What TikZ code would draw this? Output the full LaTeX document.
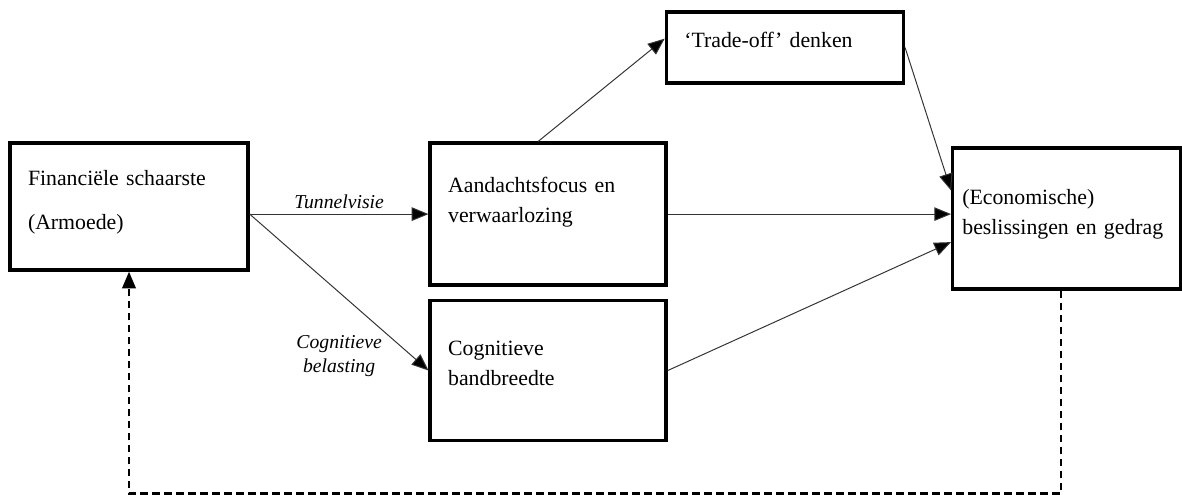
\documentclass[tikz,border=0pt]{standalone}
\usepackage{fontspec}
\setmainfont{Liberation Serif}
\usetikzlibrary{arrows.meta,positioning}

\begin{document}
\begin{tikzpicture}[
    block/.style={draw, line width=2.4pt, align=left, inner xsep=0.45cm, inner ysep=0pt, font=\fontsize{15.5}{21.3}\selectfont},
    arrow/.style={-{Triangle[length=0.42cm,width=0.34cm,fill=black]}, line width=0.7pt, black!80},
    feedback/.style={-{Triangle[length=0.42cm,width=0.34cm]}, line width=1.6pt, dash pattern=on 0.18cm off 0.12cm},
    lbl/.style={font=\fontsize{14}{17}\selectfont\itshape, align=center, black},
    node distance=0.4cm
]

\useasboundingbox (0,0) rectangle (29.55,-12.35);

\node[block, text width=5.05cm, minimum height=3.175cm] (scarcity) at (3.225,-5.1625) {Financiële schaarste\\[0.35cm](Armoede)\rule[-0.33cm]{0pt}{0pt}};

\node[block, text width=5.0cm, minimum height=3.55cm, right=4.47cm of scarcity, yshift=-0.19cm] (focus) {Aandachtsfocus en\\verwaarlozing\rule[-0.7cm]{0pt}{0pt}};

\node[block, text width=5.0cm, minimum height=3.5cm, below=0.3cm of focus] (bandwidth) {Cognitieve\\bandbreedte\rule[-0.35cm]{0pt}{0pt}};

\node[block, text width=5.025cm, minimum height=1.775cm, above right=1.42cm and -0.08cm of focus] (tradeoff) {‘Trade-off’ denken\rule[-0.375cm]{0pt}{0pt}};

\node[block, inner xsep=0.24cm, text width=5.22cm, minimum height=3.525cm, right=7.08cm of focus, yshift=-0.11cm] (behaviour) {(Economische)\\beslissingen en gedrag\rule[-0.33cm]{0pt}{0pt}};

% paths from scarcity
\draw[arrow] (scarcity.east |- focus.west) -- node[lbl, above] {Tunnelvisie} (focus.west);
\draw[arrow] (scarcity.east |- focus.west) -- node[lbl, below=0.95cm] {Cognitieve\\belasting} (bandwidth.west);

% towards behaviour
\draw[arrow] ([xshift=-0.25cm]focus.north) -- ([yshift=0.22cm]tradeoff.west);
\draw[arrow] (tradeoff.east) -- ([yshift=0.7cm]behaviour.west);
\draw[arrow] (focus.east) -- (focus.east -| behaviour.west);
\draw[arrow] (bandwidth.east) -- ([yshift=-0.59cm]behaviour.west);

% feedback loop
\draw[feedback] ([xshift=-0.15cm]behaviour.south) -- ++(0,-5.07) -| (scarcity.south);

\end{tikzpicture}
\end{document}
